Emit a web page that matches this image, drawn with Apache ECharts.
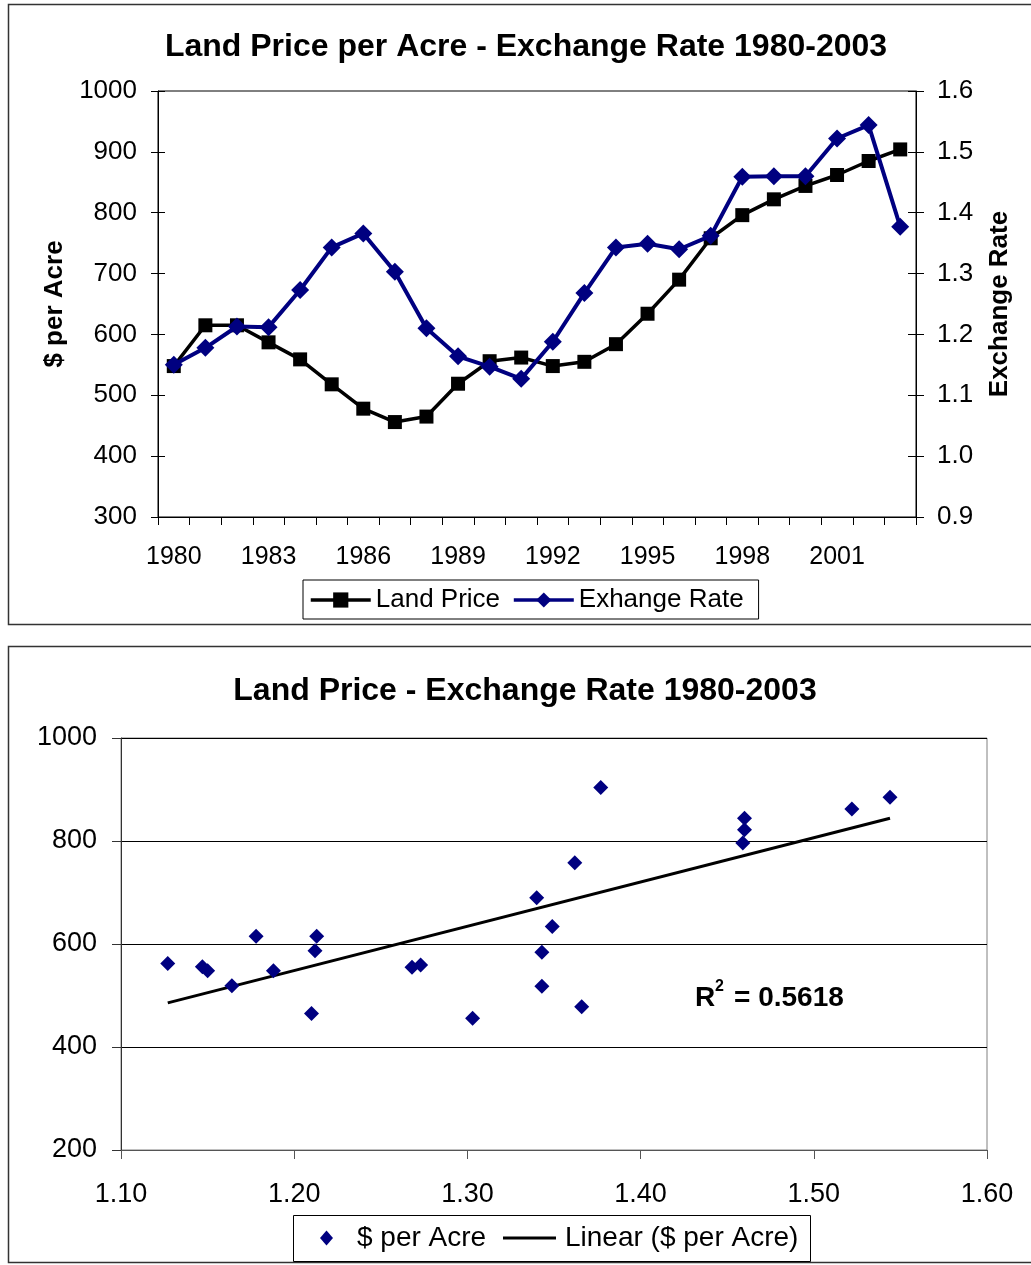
<!DOCTYPE html>
<html>
<head>
<meta charset="utf-8">
<script src="https://cdn.jsdelivr.net/npm/echarts@6/dist/echarts.min.js"></script>
<style>
html,body{margin:0;padding:0;background:#fff;}
#c{width:1031px;height:1265px;}
</style>
</head>
<body>
<div id="c"></div>
<script>
// ---- data ----
const years = ['1980','1981','1982','1983','1984','1985','1986','1987','1988','1989','1990','1991',
               '1992','1993','1994','1995','1996','1997','1998','1999','2000','2001','2002','2003'];
const landPrice = [548, 615, 615, 587, 559, 518, 478, 456, 465, 519, 556, 562,
                   548, 555, 584, 634, 690, 758, 796, 822, 844, 862, 885, 904];
const exchangeRate = [1.150, 1.178, 1.213, 1.212, 1.273, 1.343, 1.366, 1.303, 1.210, 1.164, 1.147, 1.127,
                      1.188, 1.268, 1.343, 1.349, 1.340, 1.362, 1.459, 1.460, 1.460, 1.522, 1.544, 1.377];
const topTitle = 'Land Price per Acre - Exchange Rate 1980-2003';
const bottomTitle = 'Land Price - Exchange Rate 1980-2003';
const r2Value = '= 0.5618';

// scatter pairs (exchange rate, land price)
const scatterData = years.map((y, i) => [exchangeRate[i], landPrice[i]]);
// least-squares trend line
const n = scatterData.length;
const mx = exchangeRate.reduce((a, b) => a + b, 0) / n;
const my = landPrice.reduce((a, b) => a + b, 0) / n;
let sxy = 0, sxx = 0;
for (let i = 0; i < n; i++) { sxy += (exchangeRate[i] - mx) * (landPrice[i] - my); sxx += (exchangeRate[i] - mx) ** 2; }
const slope = sxy / sxx, icpt = my - slope * mx;
const xMin = Math.min(...exchangeRate), xMax = Math.max(...exchangeRate);
const trendData = [[xMin, icpt + slope * xMin], [xMax, icpt + slope * xMax]];

const FONT = 'Liberation Sans, Arial, sans-serif';
const NAVY = '#000080';

const chart = echarts.init(document.getElementById('c'), null, {renderer: 'canvas'});
chart.setOption({
  animation: false,
  textStyle: {fontFamily: FONT},
  title: [
    {text: topTitle, left: 521, top: 26, textAlign: 'center',
     textStyle: {fontFamily: FONT, fontSize: 32, fontWeight: 'bold', color: '#000'}},
    {text: bottomTitle, left: 520, top: 670, textAlign: 'center',
     textStyle: {fontFamily: FONT, fontSize: 32, fontWeight: 'bold', color: '#000'}}
  ],
  graphic: [
    {type: 'rect', shape: {x: 8.5, y: 4.5, width: 1040, height: 620}, style: {fill: 'none', stroke: '#333', lineWidth: 1.5}, z: -10},
    {type: 'rect', shape: {x: 8.5, y: 646.5, width: 1040, height: 616}, style: {fill: 'none', stroke: '#333', lineWidth: 1.5}, z: -10},
    {type: 'rect', shape: {x: 293.5, y: 1215.5, width: 517, height: 46}, style: {fill: 'none', stroke: '#000', lineWidth: 1}, z: 5},
    {type: 'text', x: 695, y: 998, z: 10,
     style: {text: 'R', fontFamily: FONT, fontSize: 28, fontWeight: 'bold', fill: '#000', verticalAlign: 'middle'}},
    {type: 'text', x: 715, y: 987, z: 10,
     style: {text: '2', fontFamily: FONT, fontSize: 16, fontWeight: 'bold', fill: '#000', verticalAlign: 'middle'}},
    {type: 'text', x: 734, y: 998, z: 10,
     style: {text: r2Value, fontFamily: FONT, fontSize: 28, fontWeight: 'bold', fill: '#000', verticalAlign: 'middle'}}
  ],
  legend: [
    {data: ['Land Price', 'Exhange Rate'], left: 303, top: 580, orient: 'horizontal',
     itemWidth: 60, itemHeight: 19, itemGap: 12, padding: [7, 15, 6, 6],
     borderColor: '#000', borderWidth: 1, borderRadius: 0,
     lineStyle: {width: 3.5},
     textStyle: {fontFamily: FONT, fontSize: 26, color: '#000'}},
    {data: [{name: '$ per Acre', icon: 'diamond'}], left: 320, top: 1224,
     itemWidth: 13, itemHeight: 15, padding: 0,
     itemStyle: {opacity: 1},
     textStyle: {fontFamily: FONT, fontSize: 28, color: '#000', padding: [0, 0, 0, 19]}},
    {data: [{name: 'Linear ($ per Acre)', icon: 'path://M0,0L53,0L53,3L0,3Z'}], left: 503, top: 1224,
     itemWidth: 53, itemHeight: 3, padding: 0,
     textStyle: {fontFamily: FONT, fontSize: 28, color: '#000', padding: [0, 0, 0, 4]}}
  ],
  grid: [
    {left: 158, top: 91, width: 758, height: 426, show: true, borderColor: '#000', borderWidth: 1, backgroundColor: '#fff'},
    {left: 121, top: 738, width: 866, height: 412, show: true, borderColor: '#808080', borderWidth: 1, backgroundColor: '#fff'}
  ],
  xAxis: [
    {type: 'category', gridIndex: 0, data: years, boundaryGap: true,
     axisLine: {lineStyle: {color: '#000', width: 1}},
     axisTick: {show: true, interval: 0, length: 8, lineStyle: {color: '#000'}},
     axisLabel: {interval: 2, margin: 28, fontFamily: FONT, fontSize: 25, color: '#000'},
     splitLine: {show: false}},
    {type: 'value', gridIndex: 1, min: 1.1, max: 1.6, interval: 0.1,
     axisLine: {onZero: false, lineStyle: {color: '#555', width: 1}},
     axisTick: {show: true, length: 9, lineStyle: {color: '#555'}},
     axisLabel: {margin: 31, fontFamily: FONT, fontSize: 27, color: '#000', formatter: v => v.toFixed(2)},
     splitLine: {show: false}}
  ],
  yAxis: [
    {type: 'value', gridIndex: 0, position: 'left', min: 300, max: 1000, interval: 100,
     name: '$ per Acre', nameLocation: 'middle', nameGap: 90, nameRotate: 90,
     nameTextStyle: {fontFamily: FONT, fontSize: 26, fontWeight: 'bold', color: '#000'},
     axisLine: {show: true, lineStyle: {color: '#000'}},
     axisTick: {show: true, length: 7, lineStyle: {color: '#000'}},
     axisLabel: {margin: 21, fontFamily: FONT, fontSize: 26, color: '#000', formatter: v => String(v)},
     splitLine: {show: false}},
    {type: 'value', gridIndex: 0, position: 'right', min: 0.9, max: 1.6, interval: 0.1,
     name: 'Exchange Rate', nameLocation: 'middle', nameGap: 71, nameRotate: 90,
     nameTextStyle: {fontFamily: FONT, fontSize: 26, fontWeight: 'bold', color: '#000'},
     axisLine: {show: true, lineStyle: {color: '#000'}},
     axisTick: {show: true, length: 8, lineStyle: {color: '#000'}},
     axisLabel: {margin: 21, fontFamily: FONT, fontSize: 26, color: '#000', formatter: v => v.toFixed(1)},
     splitLine: {show: false}},
    {type: 'value', gridIndex: 0, position: 'left', min: 300, max: 1000, interval: 100,
     axisLine: {show: false}, axisLabel: {show: false}, splitLine: {show: false},
     axisTick: {show: true, inside: true, length: 7, lineStyle: {color: '#000'}}},
    {type: 'value', gridIndex: 0, position: 'right', min: 0.9, max: 1.6, interval: 0.1,
     axisLine: {show: false}, axisLabel: {show: false}, splitLine: {show: false},
     axisTick: {show: true, inside: true, length: 8, lineStyle: {color: '#000'}}},
    {type: 'value', gridIndex: 1, min: 200, max: 1000, interval: 200,
     axisLine: {show: true, lineStyle: {color: '#333'}},
     axisTick: {show: true, length: 9, lineStyle: {color: '#333'}},
     axisLabel: {margin: 24, fontFamily: FONT, fontSize: 27, color: '#000', formatter: v => String(v)},
     splitLine: {show: true, lineStyle: {color: '#000', width: 1}}}
  ],
  series: [
    {name: 'Land Price', type: 'line', xAxisIndex: 0, yAxisIndex: 0, data: landPrice,
     symbol: 'rect', symbolSize: 14, color: '#000',
     itemStyle: {color: '#000'}, lineStyle: {color: '#000', width: 3.5}, z: 3},
    {name: 'Exhange Rate', type: 'line', xAxisIndex: 0, yAxisIndex: 1, data: exchangeRate,
     symbol: 'diamond', symbolSize: 18, color: NAVY,
     itemStyle: {color: NAVY}, lineStyle: {color: NAVY, width: 4}, z: 4},
    {name: '$ per Acre', type: 'scatter', xAxisIndex: 1, yAxisIndex: 4, data: scatterData,
     symbol: 'diamond', symbolSize: 15, color: NAVY, itemStyle: {color: NAVY, opacity: 1}, z: 4},
    {name: 'Linear ($ per Acre)', type: 'line', xAxisIndex: 1, yAxisIndex: 4, data: trendData,
     showSymbol: false, symbol: 'none', color: '#000', itemStyle: {color: '#000'},
     lineStyle: {color: '#000', width: 3}, z: 3}
  ]
});
</script>
</body>
</html>
